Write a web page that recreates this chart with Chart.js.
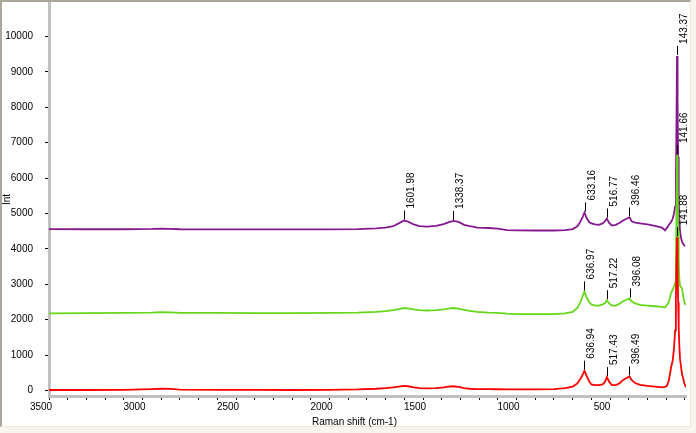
<!DOCTYPE html>
<html>
<head>
<meta charset="utf-8">
<script src="https://cdn.jsdelivr.net/npm/chart.js@4"></script>
<style>
    body { margin: 0; background: #f6f5ef; }
    #frame {
        position: absolute; left: 0; top: 0;
        width: 688px; height: 424px;
        background: #fff;
        border-top: 2px solid #aca899;
        border-left: 2px solid #aca899;
        border-right: 1px solid #ece9d8;
        border-bottom: 1px solid #ece9d8;
    }
    #chart { position: absolute; left: 0; top: 0; }
</style>
</head>
<body>
<div id="frame"></div>
<canvas id="chart" width="696" height="433"></canvas>
<script>
// Raman shift (cm-1), shared by the three spectra
const shift = [
    3500, 3300, 3100, 2950, 2900, 2850, 2800, 2600, 2400, 2200,
    2000, 1850, 1750, 1700, 1660, 1630, 1602, 1580, 1550, 1520,
    1480, 1430, 1390, 1365, 1338, 1310, 1280, 1250, 1210, 1150,
    1100, 1050, 1000, 900, 800, 740, 700, 675, 660, 648,
    637, 626, 612, 600, 580, 560, 540, 527, 517, 505,
    490, 470, 450, 430, 410, 396, 385, 366, 340, 300,
    260, 222, 206, 195, 185, 174, 165, 158, 152, 148,
    145, 142, 139, 136, 133, 130, 126, 120, 115, 110,
    104, 99, 95
];

const purpleInt = [
    4560, 4555, 4555, 4565, 4575, 4565, 4555, 4550, 4550, 4550,
    4550, 4560, 4580, 4600, 4640, 4720, 4800, 4770, 4690, 4640,
    4630, 4650, 4700, 4750, 4790, 4760, 4680, 4640, 4600, 4590,
    4570, 4530, 4525, 4520, 4520, 4530, 4560, 4640, 4760, 4880,
    5030, 4880, 4760, 4720, 4690, 4680, 4720, 4780, 4860, 4730,
    4660, 4680, 4730, 4800, 4860, 4890, 4780, 4740, 4720, 4690,
    4650, 4600, 4520, 4600, 4680, 4760, 4850, 5000, 5200, 6000,
    7500, 9450, 8200, 6600, 5500, 4900, 4500, 4300, 4200, 4150,
    4100, 4080, 4080
];

const greenInt = [
    2180, 2185, 2190, 2200, 2215, 2205, 2190, 2190, 2185, 2185,
    2190, 2200, 2220, 2240, 2270, 2300, 2330, 2320, 2290, 2270,
    2260, 2270, 2290, 2310, 2330, 2310, 2280, 2250, 2220, 2200,
    2190, 2170, 2160, 2155, 2160, 2180, 2220, 2330, 2480, 2640,
    2800, 2640, 2500, 2430, 2400, 2400, 2430, 2470, 2550, 2460,
    2400, 2400, 2450, 2520, 2570, 2600, 2520, 2460, 2420, 2400,
    2380, 2360, 2350, 2420, 2500, 2750, 2850, 2950, 3050, 3600,
    5000, 6650, 5800, 4500, 3700, 3200, 2950, 2920, 2880, 2700,
    2520, 2450, 2440
];

const redInt = [
    15, 15, 20, 40, 50, 45, 25, 20, 20, 15,
    20, 30, 50, 70, 90, 110, 130, 120, 90, 70,
    60, 70, 90, 110, 120, 100, 70, 50, 40, 40,
    35, 30, 30, 30, 40, 70, 110, 200, 320, 430,
    560, 420, 260, 170, 150, 150, 170, 250, 380, 250,
    150, 150, 200, 300, 360, 400, 300, 210, 160, 130,
    110, 90, 100, 140, 300, 650, 850, 1200, 1700, 2600,
    3600, 4330, 3500, 2500, 1800, 1300, 900, 650, 450, 370,
    220, 150, 120
];

// labelled peak positions
const purplePeaks = [1601.98, 1338.37, 633.16, 516.77, 396.46, 143.37];
const greenPeaks = [636.97, 517.22, 396.08, 141.66];
const redPeaks = [636.94, 517.43, 396.49, 141.88];

// axis ticks (x labels only on every 500)
const xTicks = [
    3500, 3400, 3300, 3200, 3100, 3000, 2900, 2800, 2700, 2600,
    2500, 2400, 2300, 2200, 2100, 2000, 1900, 1800, 1700, 1600,
    1500, 1400, 1300, 1200, 1100, 1000, 900, 800, 700, 600,
    500, 400, 300, 200, 100
];
const yTicks = [0, 1000, 2000, 3000, 4000, 5000, 6000, 7000, 8000, 9000, 10000];

const FONT = { family: 'Liberation Sans, Arial, sans-serif', size: 10 };

function toPoints(values) {
    return shift.map((s, i) => ({ x: s, y: values[i] }));
}

// marker line + rotated label over each picked peak
const peakLabels = {
    id: 'peakLabels',
    afterDatasetsDraw(chart) {
        const xs = chart.scales.x;
        const ys = chart.scales.y;
        const ctx = chart.ctx;
        const sets = [
            { peaks: purplePeaks, values: purpleInt },
            { peaks: greenPeaks, values: greenInt },
            { peaks: redPeaks, values: redInt }
        ];
        ctx.save();
        ctx.strokeStyle = '#000';
        ctx.fillStyle = '#000';
        ctx.lineWidth = 1;
        ctx.font = FONT.size + 'px ' + FONT.family;
        sets.forEach(set => {
            set.peaks.forEach(p => {
                let best = 0;
                shift.forEach((s, i) => {
                    if (Math.abs(s - p) < Math.abs(shift[best] - p)) best = i;
                });
                const px = Math.round(xs.getPixelForValue(p)) + 0.5;
                const py = ys.getPixelForValue(set.values[best]);
                ctx.beginPath();
                ctx.moveTo(px, py - 1);
                ctx.lineTo(px, py - 10);
                ctx.stroke();
                ctx.save();
                ctx.translate(px + 7, py - 12);
                ctx.rotate(-Math.PI / 2);
                ctx.textAlign = 'left';
                ctx.textBaseline = 'middle';
                ctx.fillText(p.toFixed(2), 0, 0);
                ctx.restore();
            });
        });
        // x axis title
        const area = chart.chartArea;
        ctx.textAlign = 'center';
        ctx.textBaseline = 'middle';
        ctx.fillText('Raman shift (cm-1)', (area.left + area.right) / 2 - 13, 422);
        ctx.restore();
    }
};

new Chart(document.getElementById('chart'), {
    type: 'line',
    data: {
        datasets: [
            { data: toPoints(redInt), borderColor: '#ff0000', borderWidth: 1.8, pointRadius: 0, tension: 0 },
            { data: toPoints(greenInt), borderColor: '#66d61a', borderWidth: 1.8, pointRadius: 0, tension: 0 },
            { data: toPoints(purpleInt), borderColor: '#86188f', borderWidth: 1.8, pointRadius: 0, tension: 0 }
        ]
    },
    options: {
        responsive: false,
        animation: false,
        layout: { padding: { top: 3, right: 10, left: 0, bottom: 0 } },
        plugins: {
            legend: { display: false },
            tooltip: { enabled: false }
        },
        scales: {
            x: {
                type: 'linear',
                reverse: true,
                min: 94,
                max: 3500,
                afterFit: s => {
                    s.height = 37;
                    s.paddingLeft = 0;
                    s.paddingRight = 0;
                },
                afterBuildTicks: s => { s.ticks = xTicks.map(v => ({ value: v })); },
                ticks: {
                    autoSkip: false,
                    maxRotation: 0,
                    padding: 1,
                    labelOffset: -8,
                    color: '#000',
                    font: FONT,
                    callback: v => (v % 500 === 0 ? String(v) : '')
                },
                grid: { drawOnChartArea: false, drawTicks: true, tickLength: 4, color: '#000' },
                border: { display: true, color: '#c0c0c0', width: 3 }
            },
            y: {
                min: -155,
                max: 10945,
                afterFit: s => {
                    s.width = 49;
                    s.paddingTop = 0;
                    s.paddingBottom = 0;
                },
                afterBuildTicks: s => { s.ticks = yTicks.map(v => ({ value: v })); },
                title: {
                    display: true,
                    text: 'Int',
                    color: '#000',
                    font: FONT,
                    padding: { top: 1, bottom: 0 }
                },
                ticks: {
                    autoSkip: false,
                    padding: 12,
                    color: '#000',
                    font: FONT,
                    callback: v => String(v)
                },
                grid: { drawOnChartArea: false, drawTicks: true, tickLength: 4, color: '#000' },
                border: { display: true, color: '#c0c0c0', width: 3 }
            }
        }
    },
    plugins: [peakLabels]
});
</script>
</body>
</html>
